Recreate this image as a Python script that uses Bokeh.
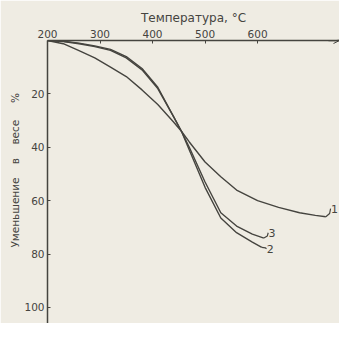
from bokeh.plotting import figure
from bokeh.models import Range1d, Arrow, OpenHead, FixedTicker
from bokeh.embed import file_html
from bokeh.resources import INLINE
from bokeh.core.properties import value

# Data (temperature °C, weight loss %)
t1 = [200, 230, 260, 290, 320, 350, 380, 410, 440, 455, 470, 500, 530, 560, 600, 640, 680, 710, 730]
v1 = [0, 1.2, 3.8, 6.5, 10, 13.5, 18.5, 24, 30.5, 34, 38, 45.5, 51, 56, 60, 62.5, 64.5, 65.5, 66]
t2 = [200, 230, 260, 290, 320, 350, 380, 410, 440, 455, 470, 500, 530, 560, 590, 608]
v2 = [0, 0.3, 1, 2, 3.3, 6, 10.5, 17.5, 28.5, 34, 41, 55, 66.5, 72, 75.5, 77.5]
t3 = [200, 230, 260, 290, 320, 350, 380, 410, 440, 455, 470, 500, 530, 560, 590, 612]
v3 = [0, 0.4, 1.2, 2.3, 3.7, 6.5, 11, 18, 28.5, 34, 40, 53, 64.5, 69.5, 72.5, 74]
curve_labels = ["1", "2", "3"]
x_ticks = [200, 300, 400, 500, 600]
y_ticks = [20, 40, 60, 80, 100]

INK = "#45443f"
PAPER = "#efece3"
FONT = "DejaVu Sans"
NB = "\u00a0"

p = figure(width=339, height=323, output_backend="svg", toolbar_location=None,
           x_axis_location="above",
           x_range=Range1d(200, 756), y_range=Range1d(106, 0),
           min_border_left=47, min_border_right=0, min_border_top=40, min_border_bottom=0)
p.background_fill_color = PAPER
p.border_fill_color = PAPER
p.outline_line_color = None
p.grid.visible = False

for ax in (p.xaxis[0], p.yaxis[0]):
    ax.axis_line_color = INK
    ax.axis_line_width = 1.5
    ax.major_tick_line_color = INK
    ax.major_tick_in = 3
    ax.major_tick_out = 0
    ax.minor_tick_line_color = None
    ax.major_label_text_font = FONT
    ax.major_label_text_font_size = "10.5px"
    ax.major_label_text_color = INK
    ax.major_label_standoff = 3
    ax.axis_label_text_font = FONT
    ax.axis_label_text_font_style = "normal"
    ax.axis_label_text_color = INK

p.xaxis[0].ticker = FixedTicker(ticks=x_ticks)
p.yaxis[0].ticker = FixedTicker(ticks=y_ticks)
p.xaxis[0].axis_label = "Температура, °C"
p.xaxis[0].axis_label_text_font_size = "12px"
p.xaxis[0].axis_label_standoff = 2
p.yaxis[0].axis_label = (NB * 7 + "Уменьшение" + NB * 4 + "в" + NB * 4 + "весе" + NB * 5 + "%")
p.yaxis[0].axis_label_text_font_size = "10.5px"
p.yaxis[0].axis_label_standoff = 0

p.add_layout(Arrow(end=OpenHead(size=6, line_color=INK, line_width=1), x_start=735, y_start=0,
                   x_end=756, y_end=0, line_color=INK, line_width=1.5))

for t, v, lab, dx, dy in ((t1, v1, curve_labels[0], 12, -3), (t2, v2, curve_labels[1], 12, 0.5),
                          (t3, v3, curve_labels[2], 11, -2)):
    p.line(t, v, line_color=INK, line_width=1.4)
    p.line([t[-1], t[-1] + dx * 0.6, t[-1] + dx * 0.75], [v[-1], v[-1] + dy * 0.4, v[-1] + dy],
           line_color=INK, line_width=1.2)
    p.text(x=[t[-1] + dx * 0.8], y=[v[-1] + dy], text=[lab], text_font=value(FONT),
           text_font_size="11px", text_color=INK, text_baseline="middle", text_align="left")

html = file_html(p, INLINE)
html = html.replace("<body>", '<body style="background:%s">' % PAPER, 1)
open("out.html", "w").write(html)
